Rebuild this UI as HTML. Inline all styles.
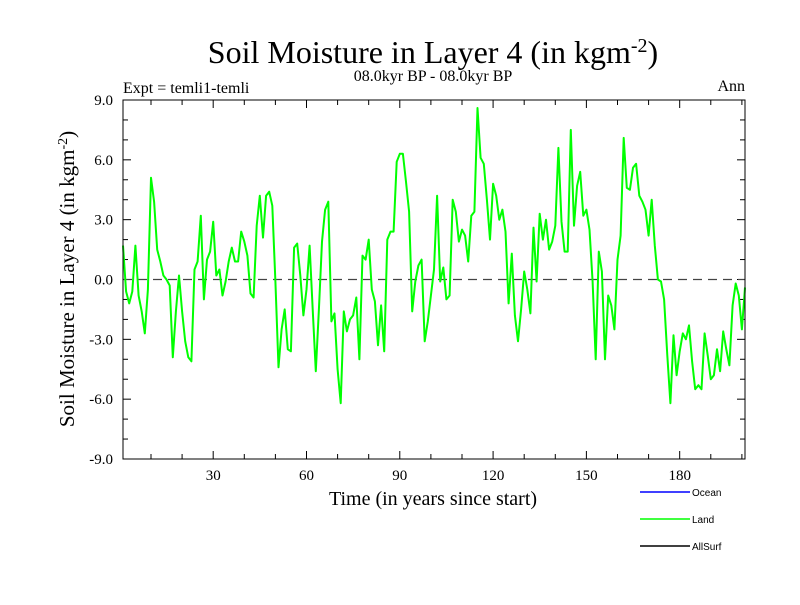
<!DOCTYPE html>
<html><head><meta charset="utf-8"><style>
body{margin:0;background:#fff;}
svg text{font-family:"Liberation Serif",serif;fill:#000;}
</style></head><body>
<svg id="chart" width="800" height="600" xmlns="http://www.w3.org/2000/svg">
<rect width="800" height="600" fill="#fff"/>
<text x="433" y="63" font-size="32" text-anchor="middle">Soil Moisture in Layer 4 (in kgm<tspan dy="-11" font-size="20">-2</tspan><tspan dy="11">)</tspan></text>
<text x="433" y="81" font-size="16" text-anchor="middle">08.0kyr BP - 08.0kyr BP</text>
<text x="123" y="93" font-size="16">Expt = temli1-temli</text>
<text x="745" y="91" font-size="16" text-anchor="end">Ann</text>
<text transform="translate(74,279) rotate(-90)" font-size="21" text-anchor="middle">Soil Moisture in Layer 4 (in kgm<tspan dy="-7" font-size="14">-2</tspan><tspan dy="7">)</tspan></text>
<text x="433" y="505" font-size="20" text-anchor="middle">Time (in years since start)</text>
<g id="axes"></g>
<g id="series"></g>
<rect x="123" y="100" width="622" height="359" fill="none" stroke="#000" stroke-width="1"/>
<g>
<line x1="640" y1="492" x2="690" y2="492" stroke="#0000ff" stroke-width="1.5"/>
<text x="692" y="496" font-size="10" style="font-family:'Liberation Sans',sans-serif">Ocean</text>
<line x1="640" y1="519" x2="690" y2="519" stroke="#00ff00" stroke-width="1.5"/>
<text x="692" y="523" font-size="10" style="font-family:'Liberation Sans',sans-serif">Land</text>
<line x1="640" y1="546" x2="690" y2="546" stroke="#000" stroke-width="1.5"/>
<text x="692" y="550" font-size="10" style="font-family:'Liberation Sans',sans-serif">AllSurf</text>
</g>
</svg>
<script>
const years = [];
for (let i = 1; i <= 201; i++) years.push(i);
const landValues = [1.7,-0.6,-1.2,-0.6,1.7,-0.8,-1.6,-2.7,-0.5,5.1,3.9,1.5,0.9,0.2,0.0,-0.3,-3.9,-1.6,0.2,-1.6,
-3.1,-3.9,-4.1,0.5,0.9,3.2,-1.0,1.0,1.4,2.9,0.2,0.5,-0.8,-0.1,0.9,1.6,0.9,0.9,2.4,1.9,
1.2,-0.7,-0.9,2.7,4.2,2.1,4.2,4.4,3.7,-0.1,-4.4,-2.5,-1.5,-3.5,-3.6,1.6,1.8,0.2,-1.8,-0.5,
1.7,-1.5,-4.6,-1.5,1.9,3.5,3.9,-2.1,-1.7,-4.5,-6.2,-1.6,-2.6,-2.0,-1.8,-0.9,-4.0,1.2,1.0,2.0,
-0.5,-1.1,-3.3,-1.3,-3.6,2.0,2.4,2.4,5.9,6.3,6.3,4.9,3.4,-1.6,-0.1,0.7,1.0,-3.1,-2.1,-0.8,
0.5,4.2,-0.1,0.6,-1.0,-0.8,4.0,3.4,1.9,2.5,2.2,0.9,3.2,3.4,8.6,6.1,5.8,4.0,2.0,4.8,
4.2,3.0,3.5,2.4,-1.2,1.3,-1.8,-3.1,-1.5,0.4,-0.5,-1.7,2.6,-0.1,3.3,2.0,3.0,1.5,1.9,2.7,
6.6,2.9,1.4,1.4,7.5,2.7,4.7,5.4,3.2,3.5,2.5,-0.1,-4.0,1.4,0.4,-4.0,-0.8,-1.3,-2.5,1.0,
2.2,7.1,4.6,4.5,5.6,5.8,4.2,3.9,3.5,2.2,4.0,1.7,0.0,-0.1,-1.0,-3.8,-6.2,-2.8,-4.8,-3.6,
-2.7,-3.0,-2.3,-4.1,-5.5,-5.3,-5.5,-2.7,-3.8,-5.0,-4.8,-3.5,-4.6,-2.6,-3.5,-4.3,-1.3,-0.2,-0.8,-2.5,-0.4];
const yTickValues = [-9,-6,-3,0,3,6,9];
const yTickLabels = ["-9.0","-6.0","-3.0","0.0","3.0","6.0","9.0"];
const xTickValues = [30,60,90,120,150,180];
const xTickLabels = ["30","60","90","120","150","180"];

const NS = "http://www.w3.org/2000/svg";
const L=123,R=745,T=100,B=459;
const xMin=1,xMax=201,yMin=-9,yMax=9;
const xs = v => L + (v-xMin)/(xMax-xMin)*(R-L);
const ys = v => B - (v-yMin)/(yMax-yMin)*(B-T);
const axes = document.getElementById('axes');
const mk = (tag, attrs, parent) => { const e=document.createElementNS(NS,tag); for (const k in attrs) e.setAttribute(k, attrs[k]); parent.appendChild(e); return e; };

for (let v=-9; v<=9; v++) {
  const major = v%3===0, len = major?8:5, y=ys(v);
  const t1 = mk('line',{x1:L,x2:L+len,y1:y,y2:y,stroke:'#000','stroke-width':1},axes);
  
  
  const t2 = mk('line',{x1:R-len,x2:R,y1:y,y2:y,stroke:'#000','stroke-width':1},axes);
  
  
}
yTickValues.forEach((v,i)=>{
  const t = mk('text',{x:L-10,y:ys(v)+5,'font-size':15,'text-anchor':'end'},axes);
  t.textContent = yTickLabels[i];
  
  
});
for (let v=10; v<=200; v+=10) {
  const major = v%30===0, len = major?8:5, x=xs(v);
  const t1 = mk('line',{x1:x,x2:x,y1:B,y2:B-len,stroke:'#000','stroke-width':1},axes);
  
  
  const t2 = mk('line',{x1:x,x2:x,y1:T,y2:T+len,stroke:'#000','stroke-width':1},axes);
  
  
}
xTickValues.forEach((v,i)=>{
  const t = mk('text',{x:xs(v),y:B+21,'font-size':15,'text-anchor':'middle'},axes);
  t.textContent = xTickLabels[i];
  
  
});
const zl = mk('line',{x1:L,x2:R,y1:ys(0),y2:ys(0),stroke:'#444','stroke-width':1.3,'stroke-dasharray':'9,6'},axes);



const series = document.getElementById('series');
const pts = landValues.map((v,i)=>xs(years[i]).toFixed(1)+','+ys(v).toFixed(1)).join(' ');
const pl = mk('polyline',{points:pts,fill:'none',stroke:'#00ff00','stroke-width':2,'stroke-linejoin':'round'},series);


</script>
</body></html>
